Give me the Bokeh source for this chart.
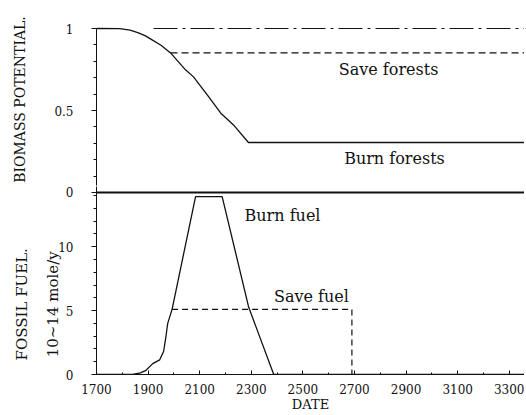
from bokeh.plotting import figure
from bokeh.models import Range1d, FixedTicker, LinearAxis
from bokeh.layouts import column
from bokeh.core.properties import value
from bokeh.embed import file_html
from bokeh.resources import INLINE

# ---- data ----
bio_years = [1700, 1790, 1830, 1860, 1890, 1909, 1950, 1987, 2045, 2076, 2130, 2181, 2231, 2289, 3400]
bio_burn = [1.0, 0.999, 0.99, 0.975, 0.955, 0.937, 0.898, 0.851, 0.748, 0.705, 0.594, 0.485, 0.412, 0.305, 0.305]
save_forest_years = [1987, 3400]
save_forest_vals = [0.851, 0.851]
potential_years = [1921, 3400]
potential_vals = [1.0, 1.0]

fuel_years = [1700, 1840, 1870, 1890, 1918, 1945, 1960, 1968, 1976, 1993, 2084, 2187, 2290, 2387, 3400]
fuel_burn = [0, 0, 0.12, 0.3, 0.85, 1.15, 1.8, 2.8, 4.0, 5.1, 13.93, 13.93, 5.26, 0, 0]
save_fuel_years = [1993, 2690, 2690]
save_fuel_vals = [5.1, 5.1, 0]

x_ticks = [1700, 1900, 2100, 2300, 2500, 2700, 2900, 3100, 3300]
bio_ticks = [0.5, 1]
fuel_ticks = [0, 5, 10]
divider_level = 14.25          # fuel-axis level where the biomass panel's zero sits

notes_top = ["Save forests", "Burn forests"]
notes_top_x = [2832, 2855]
notes_top_y = [0.75, 0.207]
notes_bot = ["Burn fuel", "Save fuel"]
notes_bot_x = [2421, 2533]
notes_bot_y = [12.46, 6.1]

FONT = "DejaVu Serif"
INK = "#111111"
PAD = "\u00a0" * 10   # trailing pad so the rotated labels sit lower, as in the original

xr = Range1d(1700, 3359)

top = figure(width=524, height=186, x_range=xr, y_range=Range1d(0.0366, 1.0976),
             output_backend="svg", toolbar_location=None, x_axis_location=None,
             min_border_left=96, min_border_right=0, min_border_top=12, min_border_bottom=0)
bot = figure(width=524, height=228, x_range=xr, y_range=Range1d(0, 14.715),
             output_backend="svg", toolbar_location=None,
             min_border_left=96, min_border_right=0, min_border_top=0, min_border_bottom=38)


def style_y(ax):
    ax.major_tick_out = 5
    ax.major_tick_in = 0
    ax.minor_tick_out = 3
    ax.minor_tick_in = 0
    ax.major_label_standoff = 18
    ax.major_label_text_font = FONT
    ax.major_label_text_font_size = "12px"
    ax.major_label_text_color = INK
    ax.axis_line_color = INK
    ax.major_tick_line_color = INK
    ax.minor_tick_line_color = INK
    ax.axis_label_text_font = FONT
    ax.axis_label_text_font_size = "14px"
    ax.axis_label_text_font_style = "normal"
    ax.axis_label_text_color = INK


def label_axis(text, standoff):
    ax = LinearAxis(ticker=FixedTicker(ticks=[]), axis_label=text)
    ax.axis_line_color = None
    ax.major_tick_out = 0
    ax.major_tick_in = 0
    ax.minor_tick_out = 0
    ax.minor_tick_in = 0
    ax.major_label_standoff = 0
    ax.axis_label_standoff = standoff
    ax.axis_label_text_font = FONT
    ax.axis_label_text_font_size = "15px"
    ax.axis_label_text_font_style = "normal"
    ax.axis_label_text_color = INK
    return ax


for p in (top, bot):
    p.outline_line_color = None
    p.grid.visible = False
    p.background_fill_color = "white"
    p.border_fill_color = "white"
    style_y(p.yaxis[0])

# top panel
ya = top.yaxis[0]
ya.ticker = FixedTicker(ticks=bio_ticks, minor_ticks=[i / 10 for i in range(1, 11)])
ya.bounds = (0.04, 1)
ya.axis_label = "BIOMASS POTENTIAL."
ya.axis_label_standoff = 23
top.line(bio_years, bio_burn, line_color=INK, line_width=1.3)
top.line(save_forest_years, save_forest_vals, line_color=INK, line_width=1.2, line_dash="7 4")
top.line(potential_years, potential_vals, line_color=INK, line_width=1.0, line_dash="24 5 3 5")
top.text(notes_top_x, notes_top_y, text=notes_top, text_font=value(FONT), text_font_size="16px",
         text_align="center", text_baseline="middle", text_color=INK)

# bottom panel
yb = bot.yaxis[0]
yb.ticker = FixedTicker(ticks=fuel_ticks + [divider_level], minor_ticks=list(range(0, 15)))
yb.major_label_overrides = {divider_level: "0"}
bot.add_layout(label_axis("10~14 mole/y" + PAD, -6), "left")
bot.add_layout(label_axis("FOSSIL FUEL." + PAD, 10), "left")

xa = bot.xaxis[0]
xa.ticker = FixedTicker(ticks=x_ticks, minor_ticks=list(range(1700, 3400, 100)))
xa.major_tick_in = 4
xa.major_tick_out = 0
xa.minor_tick_in = 2
xa.minor_tick_out = 0
xa.major_label_standoff = 9
xa.major_label_text_font = FONT
xa.major_label_text_font_size = "12px"
xa.major_label_text_color = INK
xa.axis_line_color = INK
xa.major_tick_line_color = INK
xa.minor_tick_line_color = INK
xa.axis_label = "DATE"
xa.axis_label_standoff = 0
xa.axis_label_text_font = FONT
xa.axis_label_text_font_size = "13px"
xa.axis_label_text_font_style = "normal"
xa.axis_label_text_color = INK

bot.line([1700, 3400], [divider_level, divider_level], line_color=INK, line_width=2)
bot.line(fuel_years, fuel_burn, line_color=INK, line_width=1.3)
bot.line(save_fuel_years, save_fuel_vals, line_color=INK, line_width=1.2, line_dash="6 4")
bot.text(notes_bot_x, notes_bot_y, text=notes_bot, text_font=value(FONT), text_font_size="16px",
         text_align="center", text_baseline="middle", text_color=INK)

layout = column(top, bot, spacing=0)
open("out.html", "w").write(file_html(layout, INLINE))
